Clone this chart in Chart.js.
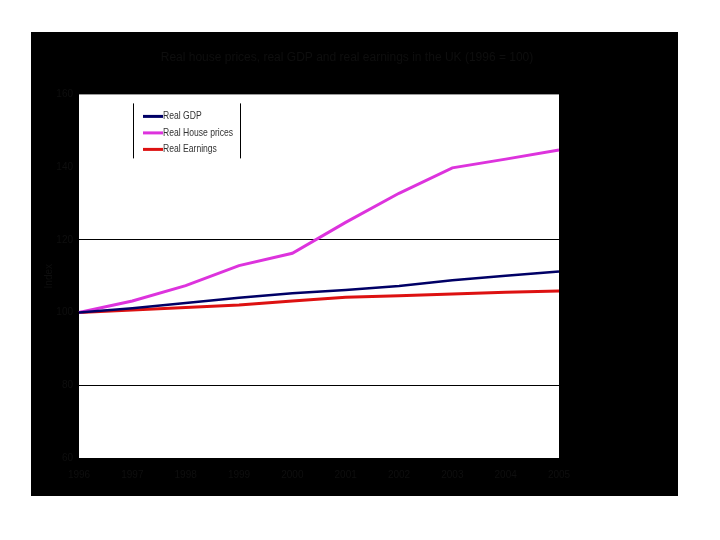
<!DOCTYPE html>
<html>
<head>
<meta charset="utf-8">
<script src="https://cdn.jsdelivr.net/npm/chart.js@4"></script>
<style>
    body { margin: 0; background: #fff; width: 720px; height: 540px; position: relative; }
    #wrap { position: absolute; left: 31px; top: 32px; width: 647px; height: 464px; background: #000; }
</style>
</head>
<body>
<div id="wrap"><canvas id="chart" width="647" height="464"></canvas></div>
<script>
const years = ["1996", "1997", "1998", "1999", "2000", "2001", "2002", "2003", "2004", "2005"];
const realGdp = [100, 101.2, 102.6, 104.1, 105.3, 106.2, 107.3, 108.9, 110.1, 111.3];
const realHousePrices = [100, 103.2, 107.4, 112.9, 116.3, 124.8, 132.8, 139.8, 142.2, 144.7];
const realEarnings = [100, 100.7, 101.4, 102.1, 103.2, 104.2, 104.6, 105.1, 105.6, 105.9];
const yTicks = [60, 80, 100, 120, 140, 160];
const gridAt = [80, 120];

// text in the original is almost lost against the black frame
const faint = "#0e0e0e";

// white plot area
const plotBg = {
    id: "plotBg",
    beforeDraw(chart) {
        const a = chart.chartArea, c = chart.ctx;
        c.save();
        c.fillStyle = "#fff";
        c.fillRect(a.left, a.top, a.right - a.left, a.bottom - a.top);
        c.restore();
    }
};

// title in the original sits a bit right of the chart's middle
const titleShift = {
    id: "titleShift",
    afterLayout(chart) {
        const t = chart.titleBlock;
        if (t) { t.left += 48; t.right += 48; }
    }
};

// legend box sitting inside the plot, top left
const innerLegend = {
    id: "innerLegend",
    afterDraw(chart) {
        const a = chart.chartArea, c = chart.ctx;
        const x0 = a.left + 54, x1 = a.left + 161;
        c.save();
        c.strokeStyle = "#000";
        c.lineWidth = 1;
        c.beginPath();
        c.moveTo(x0 + 0.5, a.top + 9); c.lineTo(x0 + 0.5, a.top + 64);
        c.moveTo(x1 + 0.5, a.top + 9); c.lineTo(x1 + 0.5, a.top + 64);
        c.stroke();
        chart.data.datasets.forEach((ds, i) => {
            const y = a.top + 22 + i * 16.5;
            c.strokeStyle = ds.borderColor;
            c.lineWidth = 3;
            c.beginPath();
            c.moveTo(x0 + 10, y); c.lineTo(x0 + 30, y);
            c.stroke();
            // narrow lettering like the original
            c.save();
            c.translate(x0 + 30, y);
            c.scale(0.78, 1);
            c.font = "11px 'Liberation Sans', Arial, sans-serif";
            c.textBaseline = "middle";
            c.fillStyle = "#333";
            c.fillText(ds.label, 0, 0);
            c.restore();
        });
        c.restore();
    }
};

new Chart(document.getElementById("chart"), {
    type: "line",
    data: {
        labels: years,
        datasets: [
            { label: "Real GDP", data: realGdp, borderColor: "#000066", borderWidth: 2.5 },
            { label: "Real House prices", data: realHousePrices, borderColor: "#dd33dd", borderWidth: 3 },
            { label: "Real Earnings", data: realEarnings, borderColor: "#dd1111", borderWidth: 3 }
        ]
    },
    options: {
        responsive: false,
        animation: false,
        layout: { padding: { left: 8, right: 119, top: 18, bottom: 10 } },
        elements: { point: { radius: 0 }, line: { tension: 0 } },
        plugins: {
            legend: { display: false },
            tooltip: { enabled: false },
            title: {
                display: true,
                text: "Real house prices, real GDP and real earnings in the UK (1996 = 100)",
                color: faint,
                font: { size: 12, family: "'Liberation Sans', Arial, sans-serif", weight: "normal" },
                padding: { top: 0, bottom: 30 }
            }
        },
        scales: {
            x: {
                offset: false,
                grid: { display: false },
                border: { display: false },
                ticks: { color: faint, maxRotation: 0, font: { size: 10 } },
                afterFit(s) { s.height = 28; }
            },
            y: {
                min: 60,
                max: 160,
                afterBuildTicks(s) { s.ticks = yTicks.map(v => ({ value: v })); },
                grid: {
                    drawTicks: false,
                    color: ctx => gridAt.includes(ctx.tick.value) ? "#000" : "rgba(0,0,0,0)",
                    lineWidth: 1
                },
                border: { display: false },
                ticks: { color: faint, font: { size: 10 }, padding: 6 },
                title: { display: true, text: "Index", color: faint, font: { size: 10 } },
                afterFit(s) { s.width = 40; }
            }
        }
    },
    plugins: [plotBg, titleShift, innerLegend]
});
</script>
</body>
</html>
